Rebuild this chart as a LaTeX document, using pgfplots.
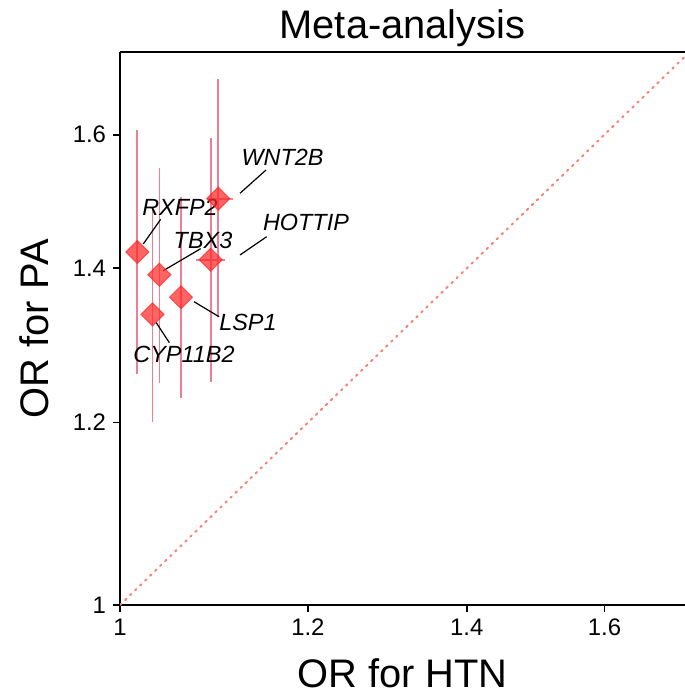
\documentclass[border=0pt]{standalone}
\usepackage{pgfplots}
\pgfplotsset{compat=1.18}
\usepackage{pgfplotstable}
\usepackage{fontspec}
\setmainfont{Liberation Sans}
\definecolor{errc}{RGB}{240,125,150}
\definecolor{mk}{RGB}{255,40,40}
\definecolor{diag}{RGB}{250,128,114}

\pgfplotstableread{
name x y
WNT2B 1.100 1.501
RXFP2 1.017 1.423
HOTTIP 1.092 1.412
TBX3 1.039 1.391
LSP1 1.061 1.360
CYP11B2 1.032 1.337
}\metadata

\newcommand{\lblfont}{\fontsize{11.75}{14}\selectfont\itshape}

\begin{document}
\begin{tikzpicture}
\begin{axis}[
  scale only axis,
  width=282.5bp, height=276.25bp,
  xmode=log, ymode=log,
  xmin=1, xmax=1.73, ymin=1, ymax=1.737,
  xtick={1,1.2,1.4,1.6}, xticklabels={1,1.2,1.4,1.6},
  ytick={1,1.2,1.4,1.6}, yticklabels={1,1.2,1.4,1.6},
  xminorticks=false, yminorticks=false,
  axis x line*=box, axis y line*=left,
  xtick pos=lower, ytick pos=left,
  tick align=outside,
  major tick length=3.5bp,
  every tick/.style={black, line width=0.9bp},
  axis line style={black, line width=1bp},
  /pgf/number format/assume math mode=true,
  ticklabel style={font=\fontsize{12}{14}\selectfont},
  xlabel={OR for HTN}, ylabel={OR for PA},
  label style={font=\fontsize{20}{24}\selectfont},
  xlabel style={at={(axis description cs:0.5,0)}, anchor=base, yshift=-41bp},
  ylabel style={at={(axis description cs:-0.1257,0.5)}, anchor=base},
  title={Meta-analysis},
  title style={font=\fontsize{20}{24}\selectfont, at={(axis description cs:0.5,1)}, anchor=base, yshift=1bp},
  clip=true,
]
% diagonal
\addplot[diag, line width=1bp, dash pattern=on 0.9bp off 2.6bp, line cap=round] coordinates {(1,1) (1.74,1.74)};
% error bars
\addplot[errc, line width=0.9bp, forget plot] coordinates {(1.100,1.334) (1.100,1.692)};
\addplot[errc, line width=0.9bp, forget plot] coordinates {(1.089,1.501) (1.116,1.501)};
\addplot[errc, line width=0.9bp, forget plot] coordinates {(1.017,1.260) (1.017,1.607)};
\addplot[errc, line width=0.9bp, forget plot] coordinates {(1.092,1.250) (1.092,1.594)};
\addplot[errc, line width=0.9bp, forget plot] coordinates {(1.077,1.412) (1.107,1.412)};
\addplot[errc, line width=0.9bp, forget plot] coordinates {(1.039,1.248) (1.039,1.548)};
\addplot[errc, line width=0.9bp, forget plot] coordinates {(1.061,1.230) (1.061,1.503)};
\addplot[errc, line width=0.9bp, forget plot] coordinates {(1.032,1.201) (1.032,1.484)};
% markers
\addplot[only marks, mark=square*, mark size=4.07bp,
  mark options={rotate=45, fill=mk, draw=mk, line width=0.5bp, fill opacity=0.72, draw opacity=0.72}]
  table[x=x,y=y] {\metadata};
% leader lines
\draw[black, line width=0.6bp] (rel axis cs:0.2124,0.7452) -- (rel axis cs:0.2584,0.7873);
\draw[black, line width=0.6bp] (rel axis cs:0.0412,0.6534) -- (rel axis cs:0.0720,0.6981);
\draw[black, line width=0.6bp] (rel axis cs:0.0766,0.6051) -- (rel axis cs:0.1428,0.6449);
\draw[black, line width=0.6bp] (rel axis cs:0.2124,0.6335) -- (rel axis cs:0.2596,0.6666);
\draw[black, line width=0.6bp] (rel axis cs:0.1310,0.5490) -- (rel axis cs:0.1752,0.5218);
\draw[black, line width=0.6bp] (rel axis cs:0.0637,0.5117) -- (rel axis cs:0.0873,0.4748);
% labels
\node[font=\lblfont, inner sep=0pt, anchor=center] at (rel axis cs:0.2876,0.8109) {WNT2B};
\node[font=\lblfont, inner sep=0pt, anchor=center] at (rel axis cs:0.1062,0.7195) {RXFP2};
\node[font=\lblfont, inner sep=0pt, anchor=center] at (rel axis cs:0.1469,0.6606) {TBX3};
\node[font=\lblfont, inner sep=0pt, anchor=center] at (rel axis cs:0.3292,0.6932) {HOTTIP};
\node[font=\lblfont, inner sep=0pt, anchor=center] at (rel axis cs:0.2265,0.5113) {LSP1};
\node[font=\lblfont, inner sep=0pt, anchor=center] at (rel axis cs:0.1133,0.4534) {CYP11B2};
\coordinate (SW) at (rel axis cs:0,0);
\coordinate (NE) at (rel axis cs:1,1);
\end{axis}
\pgfresetboundingbox
\path[use as bounding box] ([xshift=-60bp,yshift=-46bp]SW) rectangle ([yshift=26.25bp]NE);
\end{tikzpicture}
\end{document}
